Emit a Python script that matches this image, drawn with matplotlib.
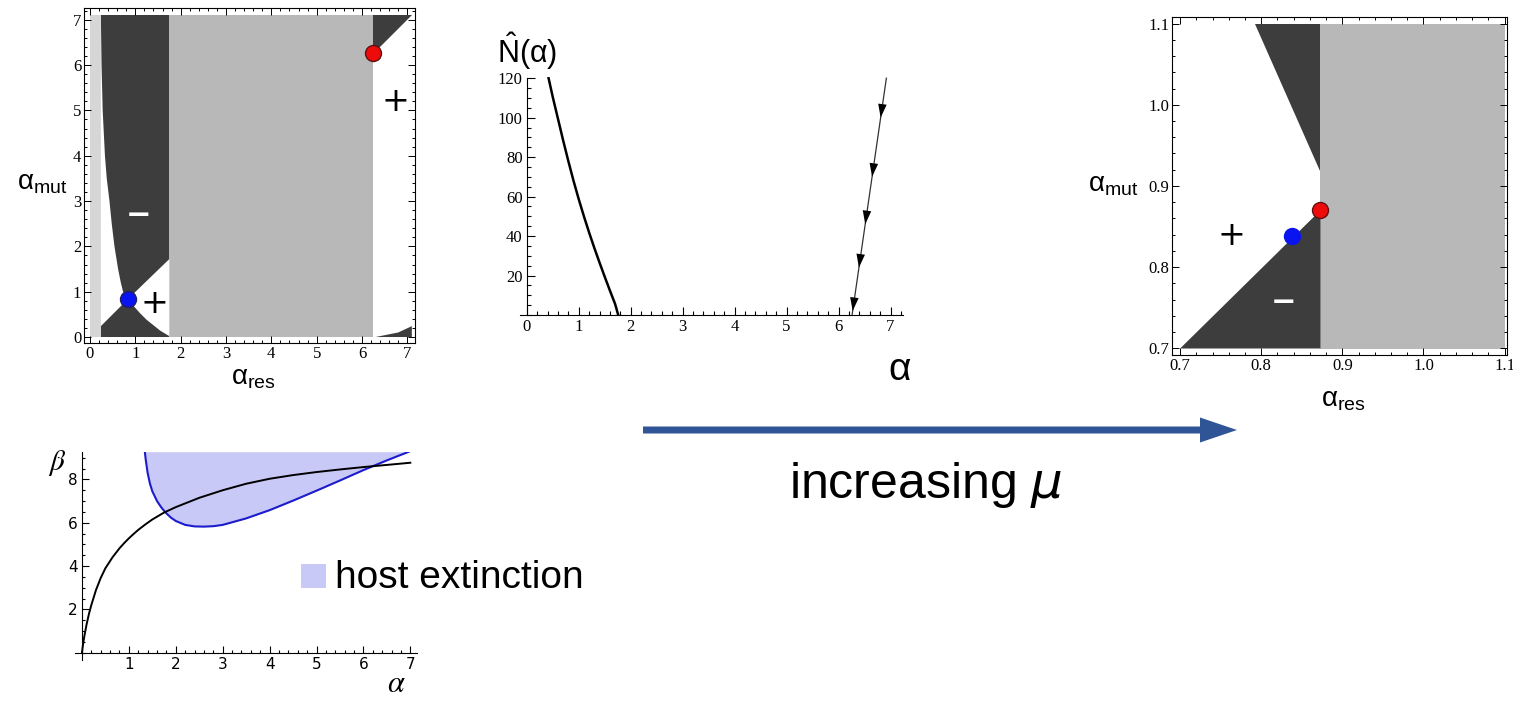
import numpy as np
import matplotlib
matplotlib.use('Agg')
from matplotlib import pyplot as plt
from matplotlib.ticker import MultipleLocator, FormatStrFormatter
from matplotlib.patches import FancyArrow, Rectangle

W, H = 1513, 703

# ---------- panel 1: pairwise invasibility plot, full range ----------
p1_edges = [0.0, 0.24, 1.75, 6.25, 7.1]
p1_top = 7.1
# left white region: curve from top down to the singular point, then diagonal
p1_lw_res = [0.24, 0.255, 0.28, 0.33, 0.37, 0.43, 0.48, 0.54, 0.62, 0.68, 0.73, 0.84, 0.24]
p1_lw_mut = [7.1, 6.0, 5.0, 4.0, 3.5, 3.0, 2.5, 2.0, 1.5, 1.2, 1.0, 0.84, 0.24]
# right white region: diagonal up, then curve back down to the singular point
p1_rw_res = [0.84, 1.75, 1.75, 1.55, 1.4, 1.25, 1.1, 0.95, 0.84]
p1_rw_mut = [0.84, 1.72, 0.02, 0.14, 0.26, 0.38, 0.53, 0.7, 0.84]
# dark pieces in the right band
p1_top_res = [6.25, 6.25, 7.1]
p1_top_mut = [6.25, 7.1, 7.1]
p1_bot_res = [6.3, 7.1, 7.1, 6.8]
p1_bot_mut = [0.0, 0.0, 0.24, 0.1]
p1_blue = (0.84, 0.84)
p1_red = (6.25, 6.26)

# ---------- panel 2: host density ----------
n_left_a = [0.42, 0.5, 0.6, 0.7, 0.8, 0.9, 1.0, 1.1, 1.2, 1.3, 1.4, 1.5, 1.6, 1.7, 1.76]
n_left_n = [120, 110.5, 99.5, 88.5, 78, 68, 58.7, 50, 41.8, 34, 26.6, 19.4, 12.4, 5.6, 0]
n_right_a = [6.26, 6.92]
n_right_n = [0, 120]
n_arrows = [100, 70, 46, 24, 2]

# ---------- panel 3: pairwise invasibility plot, zoomed ----------
p3_edges = [0.7, 0.873, 1.1]
p3_low_res = [0.7, 0.873, 0.873]
p3_low_mut = [0.7, 0.87, 0.7]
p3_up_res = [0.792, 0.873, 0.873]
p3_up_mut = [1.1, 1.1, 0.919]
p3_blue = (0.838, 0.838)
p3_red = (0.873, 0.870)

# ---------- panel 4: beta vs alpha ----------
trade_a = [0, 0.02, 0.05, 0.1, 0.15, 0.2, 0.3, 0.4, 0.5, 0.65, 0.8, 0.9, 1.0, 1.1, 1.2,
           1.35, 1.5, 1.75, 2.0, 2.5, 3.0, 3.5, 4.0, 4.5, 5.0, 5.5, 6.0, 6.5, 7.0]
trade_b = [0, 0.34, 0.75, 1.32, 1.8, 2.2, 2.9, 3.45, 3.9, 4.4, 4.82, 5.06, 5.28, 5.48, 5.67,
           5.92, 6.15, 6.47, 6.72, 7.15, 7.5, 7.8, 8.03, 8.2, 8.34, 8.46, 8.57, 8.67, 8.77]
ext_a = [1.34, 1.36, 1.4, 1.45, 1.5, 1.6, 1.7, 1.8, 1.9, 2.0, 2.2, 2.4, 2.6, 2.8, 3.0,
         3.5, 4.0, 4.5, 5.0, 5.5, 6.0, 6.5, 6.97]
ext_b = [9.28, 8.9, 8.3, 7.8, 7.45, 7.0, 6.68, 6.43, 6.23, 6.08, 5.9, 5.83, 5.82, 5.84, 5.9,
         6.2, 6.58, 7.02, 7.48, 7.95, 8.43, 8.88, 9.28]

dark = '#3d3d3d'
gray = '#b8b8b8'
strip = '#d6d6d6'
serif = 'Liberation Serif'
sans = ['Liberation Sans', 'DejaVu Sans']

fig = plt.figure(figsize=(W / 100, H / 100), dpi=100)


def px_axes(x0, y0, x1, y1):
    return fig.add_axes([x0 / W, 1 - y1 / H, (x1 - x0) / W, (y1 - y0) / H])


def frame_ticks(ax, major, minor):
    ax.xaxis.set_major_locator(MultipleLocator(major))
    ax.yaxis.set_major_locator(MultipleLocator(major))
    ax.xaxis.set_minor_locator(MultipleLocator(minor))
    ax.yaxis.set_minor_locator(MultipleLocator(minor))
    ax.tick_params(which='both', direction='in', top=True, right=True, width=0.7)
    ax.tick_params(which='major', length=5, labelsize=12, pad=2, labelfontfamily=serif)
    ax.tick_params(which='minor', length=2.5)
    for s in ax.spines.values():
        s.set_linewidth(0.8)


def dot(ax, pt, color, edge):
    ax.plot([pt[0]], [pt[1]], 'o', ms=11.5, color=color, mec=edge, mew=1.0, zorder=5)


# ----- panel 1 -----
ax1 = px_axes(84, 8, 415, 343)
band_colors = [strip, dark, gray, 'white']
for i, c in enumerate(band_colors):
    ax1.fill_between([p1_edges[i], p1_edges[i + 1]], 0, p1_top, color=c, lw=0, zorder=1)
ax1.fill(p1_lw_res, p1_lw_mut, color='white', lw=0, zorder=2)
ax1.fill(p1_rw_res, p1_rw_mut, color='white', lw=0, zorder=2)
ax1.fill(p1_top_res, p1_top_mut, color=dark, lw=0, zorder=2)
ax1.fill(p1_bot_res, p1_bot_mut, color=dark, lw=0, zorder=2)
dot(ax1, p1_blue, '#0a14f0', '#202060')
dot(ax1, p1_red, '#ee0b0b', '#601010')
ax1.text(1.06, 2.69, '\u2212', color='white', fontsize=22, fontweight='bold',
         ha='center', va='center', zorder=6)
ax1.text(1.43, 0.74, '+', color='black', fontsize=24, ha='center', va='center', zorder=6)
ax1.text(6.73, 5.19, '+', color='black', fontsize=24, ha='center', va='center', zorder=6)
ax1.set_xlim(-0.132, 7.17)
ax1.set_ylim(-0.132, 7.26)
frame_ticks(ax1, 1, 0.2)

# ----- panel 2 -----
ax2 = px_axes(520, 77, 903, 315)
ax2.plot(n_left_a, n_left_n, color='black', lw=1.8, zorder=3)
ax2.plot(n_right_a, n_right_n, color='#333333', lw=0.9, zorder=3)
for n in n_arrows:
    a = np.interp(n, n_right_n, n_right_a)
    ax2.annotate('', xy=(a, n), xytext=(a + 0.04, n + 8),
                 arrowprops=dict(arrowstyle='-|>,head_length=0.7,head_width=0.22',
                                 mutation_scale=14, color='black', lw=0.0,
                                 shrinkA=0, shrinkB=0), zorder=4)
ax2.set_xlim(-0.13, 7.24)
ax2.set_ylim(0, 120.6)
ax2.spines['left'].set_position(('data', 0))
ax2.spines['top'].set_visible(False)
ax2.spines['right'].set_visible(False)
ax2.spines['left'].set_bounds(0, 120)
ax2.set_yticks([20, 40, 60, 80, 100, 120])
ax2.xaxis.set_major_locator(MultipleLocator(1))
ax2.xaxis.set_minor_locator(MultipleLocator(0.2))
ax2.yaxis.set_minor_locator(MultipleLocator(5))
ax2.tick_params(which='both', direction='in', width=0.8)
ax2.tick_params(which='major', length=6, labelsize=12, pad=3, labelfontfamily=serif)
ax2.tick_params(which='minor', length=3)
ax2.patch.set_visible(False)

# ----- panel 3 -----
ax3 = px_axes(1172, 17, 1507, 355)
ax3.fill_between([p3_edges[1], p3_edges[2]], p3_edges[0], p3_edges[2], color=gray, lw=0, zorder=1)
ax3.fill(p3_low_res, p3_low_mut, color=dark, lw=0, zorder=2)
ax3.fill(p3_up_res, p3_up_mut, color=dark, lw=0, zorder=2)
dot(ax3, p3_blue, '#0a14f0', '#0a14f0')
dot(ax3, p3_red, '#ee0b0b', '#601010')
ax3.text(0.763, 0.839, '+', color='black', fontsize=24, ha='center', va='center', zorder=6)
ax3.text(0.827, 0.757, '\u2212', color='white', fontsize=22, fontweight='bold',
         ha='center', va='center', zorder=6)
ax3.set_xlim(0.69, 1.103)
ax3.set_ylim(0.692, 1.108)
frame_ticks(ax3, 0.1, 0.02)
ax3.xaxis.set_major_formatter(FormatStrFormatter('%.1f'))
ax3.yaxis.set_major_formatter(FormatStrFormatter('%.1f'))

# ----- panel 4 -----
ax4 = px_axes(75.4, 451.7, 416.9, 660)
ax4.set_xlim(-0.14, 7.14)
ax4.set_ylim(-0.34, 9.28)
ax4.fill_between(ext_a, ext_b, ax4.get_ylim()[1], color='#c8c9f6', lw=0, zorder=1)
ax4.plot(ext_a, ext_b, color='#1c1ccc', lw=1.5, zorder=3)
ax4.plot(trade_a, trade_b, color='black', lw=1.4, zorder=4)
for s in ['left', 'bottom']:
    ax4.spines[s].set_position(('data', 0))
    ax4.spines[s].set_linewidth(0.8)
ax4.spines['top'].set_visible(False)
ax4.spines['right'].set_visible(False)
ax4.set_xticks([1, 2, 3, 4, 5, 6, 7])
ax4.set_yticks([2, 4, 6, 8])
ax4.xaxis.set_minor_locator(MultipleLocator(0.2))
ax4.yaxis.set_minor_locator(MultipleLocator(0.5))
ax4.tick_params(which='both', direction='in', width=0.8)
ax4.tick_params(which='major', length=5, labelsize=11, pad=3)
ax4.tick_params(which='minor', length=2.5)
ax4.patch.set_visible(False)

# ----- overlay: labels, legend, big arrow -----
ov = fig.add_axes([0, 0, 1, 1])
ov.set_xlim(0, W)
ov.set_ylim(H, 0)
ov.axis('off')
ov.patch.set_visible(False)

ov.text(67, 183, r'$\mathregular{\alpha_{mut}}$', fontsize=20, family=sans, ha='right', va='center')
ov.text(253, 378, r'$\mathregular{\alpha_{res}}$', fontsize=20, family=sans, ha='center', va='center')
ov.text(1138, 185, r'$\mathregular{\alpha_{mut}}$', fontsize=20, family=sans, ha='right', va='center')
ov.text(1343, 400, r'$\mathregular{\alpha_{res}}$', fontsize=20, family=sans, ha='center', va='center')
ov.text(497, 63, r'$\mathregular{\hat{N}(\alpha)}$', fontsize=22, family=sans, ha='left', va='baseline')
ov.text(900, 370, r'$\mathregular{\alpha}$', fontsize=28, family=sans, ha='center', va='center')

ov.text(57, 463, r'$\beta$', fontsize=21, math_fontfamily='stix', ha='center', va='center')
ov.text(396, 683, r'$\alpha$', fontsize=22, math_fontfamily='stix', ha='center', va='center')

ov.add_patch(Rectangle((300.7, 564.3), 25, 24, color='#c8c9f6', lw=0))
ov.text(335, 588, 'host extinction', fontsize=28, family=sans, ha='left', va='baseline')

ov.add_patch(FancyArrow(643, 430, 594, 0, width=7, head_width=25, head_length=37,
                        length_includes_head=True, color='#2f5597', lw=0))
ov.text(926, 498, r'increasing $\mu$', fontsize=36, family=sans, ha='center', va='baseline')

fig.savefig('out.png', dpi=100)
